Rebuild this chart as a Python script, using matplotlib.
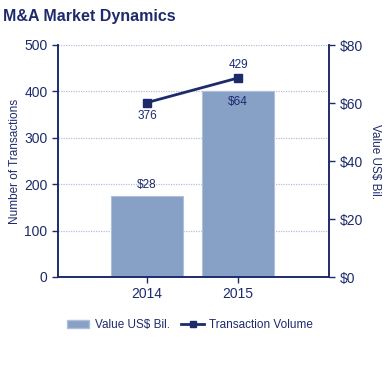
import matplotlib.pyplot as plt
from matplotlib.lines import Line2D
from matplotlib.patches import Patch

plt.rcParams['font.family'] = ['Liberation Sans', 'DejaVu Sans']

years = ['2014', '2015']
value_bil = [28, 64]
transactions = [376, 429]

navy = '#1e2b6b'
bar_col = '#87a0c6'

fig = plt.figure(figsize=(3.9, 3.8), dpi=100)
ax = fig.add_axes([58/390, 1-277/380, 271/390, 232/380])
ax2 = ax.twinx()

x = list(range(len(years)))

# bars on the right axis (value)
ax2.bar(x, value_bil, width=0.8, color=bar_col, edgecolor='#b0c0da', linewidth=0.8, zorder=2)
ax2.set_ylim(0, 80)
ax2.set_yticks([0, 20, 40, 60, 80])
ax2.set_yticklabels(['$0', '$20', '$40', '$60', '$80'])
ax2.text(x[0], value_bil[0] + 1.5, '$28', ha='center', va='bottom', color=navy, fontsize=8.5)
ax2.text(x[1], value_bil[1] - 1.5, '$64', ha='center', va='top', color=navy, fontsize=8.5)

# line on the left axis (transactions)
ax.set_zorder(ax2.get_zorder() + 1)
ax.patch.set_visible(False)
ax.plot(x, transactions, color=navy, linewidth=2, marker='s', markersize=6, zorder=3)
ax.text(x[0], transactions[0] - 16, str(transactions[0]), ha='center', va='top', color=navy, fontsize=8.5)
ax.text(x[1], transactions[1] + 16, str(transactions[1]), ha='center', va='bottom', color=navy, fontsize=8.5)

ax.set_ylim(0, 500)
ax.set_yticks([0, 100, 200, 300, 400, 500])
ax.set_xlim(-0.98, 2.0)
ax.set_xticks(x)
ax.set_xticklabels(years)

# grid drawn on the back axis so it sits behind the bars
for v in [100, 200, 300, 400, 500]:
    ax2.axhline(v / 500 * 80, color='#b8c0d8', linestyle=(0, (1, 1)), linewidth=0.9, zorder=1)

for a in (ax, ax2):
    for s in a.spines.values():
        s.set_color(navy)
        s.set_linewidth(1.2)
    a.spines['top'].set_visible(False)
    a.tick_params(colors=navy, labelcolor=navy, labelsize=10, length=4, width=1)
ax.tick_params(axis='x', labelsize=10, length=4)

ax.set_ylabel('Number of Transactions', color=navy, fontsize=8.5, labelpad=2)
ax2.set_ylabel('Value US$ Bil.', color=navy, fontsize=8.5, rotation=270, labelpad=13)

fig.text(3/390, 1-16/380, 'M&A Market Dynamics', fontsize=11.5, fontweight='bold',
         color=navy, va='center', ha='left')

handles = [Patch(facecolor=bar_col, edgecolor='#b0c0da'),
           Line2D([0], [0], color=navy, linewidth=2, marker='s', markersize=5)]
fig.legend(handles, ['Value US$ Bil.', 'Transaction Volume'], loc='center',
           bbox_to_anchor=(190/390, 1-325/380), ncol=2, frameon=False,
           fontsize=8.5, labelcolor=navy, handlelength=1.9, columnspacing=1.0, handletextpad=0.45)

plt.savefig('out.png', dpi=100)
